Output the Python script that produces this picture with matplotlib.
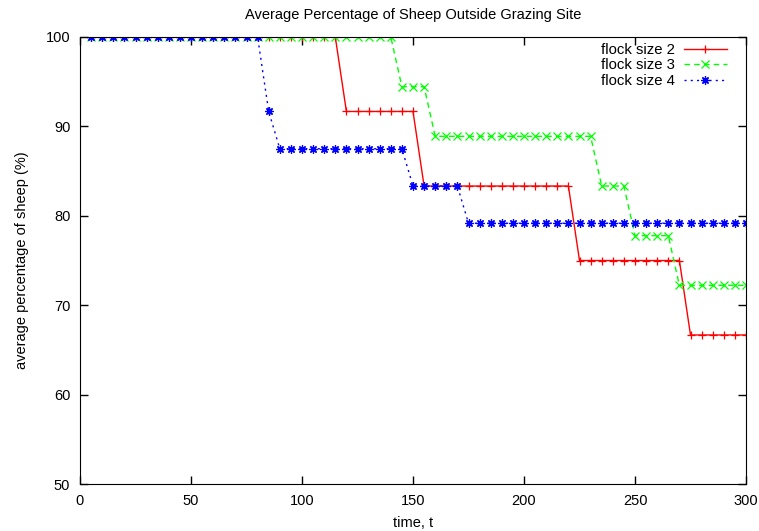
import numpy as np
import matplotlib
matplotlib.use("Agg")
import matplotlib.pyplot as plt

plt.rcParams['font.family'] = ['Liberation Sans', 'DejaVu Sans']
plt.rcParams['font.size'] = 10.5

# sampled every 5 time steps
t = list(range(5, 301, 5))

# (last time at this level, level) for each flock size
steps2 = [(115, 100.0), (150, 91.67), (220, 83.33), (270, 75.0), (300, 66.67)]
steps3 = [(140, 100.0), (155, 94.44), (230, 88.89), (245, 83.33), (265, 77.78), (300, 72.22)]
steps4 = [(80, 100.0), (85, 91.67), (145, 87.5), (170, 83.33), (300, 79.17)]

labels = ["flock size 2", "flock size 3", "flock size 4"]
colors = ["#ff0000", "#00ff00", "#0000ff"]
styles = ["-", (0, (4, 3)), (0, (1.5, 3))]
markers = ["+", "x", (8, 2, 0)]


def expand(steps):
    vals = []
    for x in t:
        for end, v in steps:
            if x <= end:
                vals.append(v)
                break
    return vals


series = [expand(steps2), expand(steps3), expand(steps4)]

fig = plt.figure(figsize=(7.59, 5.31), dpi=100)
ax = fig.add_axes([80 / 759, 47 / 531, 666 / 759, 447 / 531])

for vals, lab, c, ls, m in zip(series, labels, colors, styles, markers):
    ax.plot(t, vals, color=c, linestyle=ls, linewidth=1, marker=m,
            markersize=6, markeredgewidth=0.9, label=lab)

ax.set_xlim(0, 300)
ax.set_ylim(50, 100)
ax.set_xticks(range(0, 301, 50))
ax.set_yticks(range(50, 101, 10))
ax.tick_params(direction="in", top=True, right=True, length=6, width=1, pad=7)
ax.set_xlabel("time, t", labelpad=6)
ax.set_ylabel("average percentage of sheep (%)", labelpad=12)
ax.set_title("Average Percentage of Sheep Outside Grazing Site", fontsize=10.5, pad=13)

leg = ax.legend(loc="upper right", frameon=False, markerfirst=False, handlelength=2.9,
                labelspacing=0.1, bbox_to_anchor=(727 / 759, 488 / 531),
                bbox_transform=fig.transFigure, borderaxespad=0, borderpad=0,
                handletextpad=0.6, prop={'size': 10.7})
for txt in leg.get_texts():
    txt.set_ha("right")

fig.savefig("out.png", dpi=100)
